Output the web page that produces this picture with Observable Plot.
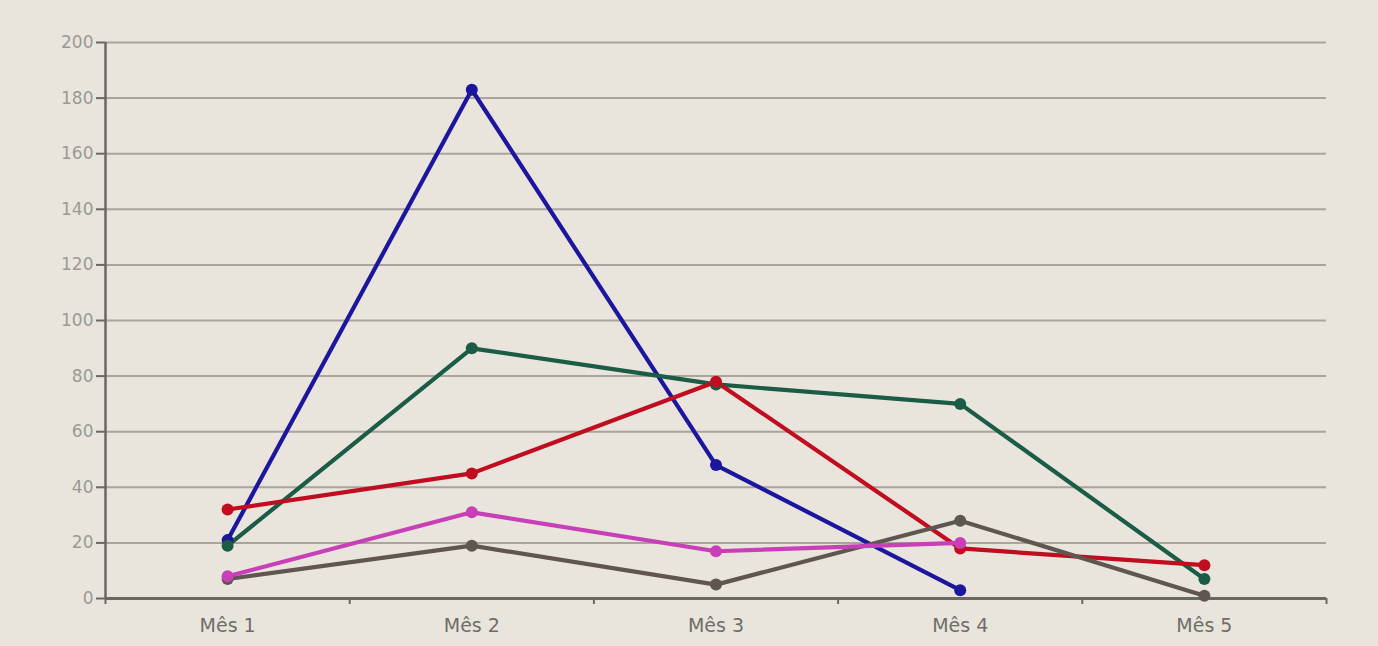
<!DOCTYPE html>
<html>
<head>
<meta charset="utf-8">
<script src="https://cdn.jsdelivr.net/npm/d3@7"></script>
<script src="https://cdn.jsdelivr.net/npm/@observablehq/plot@0.6"></script>
<style>
  html, body { margin: 0; padding: 0; background: #e9e5dc; }
  #chart svg { display: block; }
</style>
</head>
<body>
<div id="chart"></div>
<script>
const months = ["Mês 1", "Mês 2", "Mês 3", "Mês 4", "Mês 5"];
const yTicks = [0, 20, 40, 60, 80, 100, 120, 140, 160, 180, 200];
const seriesNames = ["Azul", "Verde", "Vermelho", "Cinza", "Rosa"];
const seriesColors = ["#1c169e", "#1b5c46", "#c00d1f", "#5f5650", "#c83fb8"];
const azul = [21, 183, 48, 3, null];
const verde = [19, 90, 77, 70, 7];
const vermelho = [32, 45, 78, 18, 12];
const cinza = [7, 19, 5, 28, 1];
const rosa = [8, 31, 17, 20, null];

const allSeries = [azul, verde, vermelho, cinza, rosa];
const data = [];
allSeries.forEach((vals, s) => {
  vals.forEach((v, i) => {
    if (v !== null) data.push({series: seriesNames[s], idx: i + 1, value: v});
  });
});
const boundaries = d3.range(0.5, months.length + 1, 1);

const chart = Plot.plot({
  width: 1378,
  height: 646,
  marginLeft: 105,
  marginRight: 52,
  marginTop: 42,
  marginBottom: 48,
  style: {background: "#e9e5dc", fontFamily: "DejaVu Sans, Verdana, sans-serif"},
  x: {domain: [0.5, months.length + 0.5]},
  y: {domain: [0, 200]},
  color: {domain: seriesNames, range: seriesColors},
  marks: [
    Plot.ruleY(yTicks.filter(d => d > 0), {stroke: "#a9a59c", strokeWidth: 2}),
    Plot.axisY({ticks: yTicks, tickSize: 9, tickPadding: 3, stroke: "#6b6762", strokeWidth: 2, fill: "#9a9996", fontSize: 17, label: null}),
    Plot.axisX({ticks: boundaries, tickSize: 6, tickFormat: () => "", stroke: "#6b6762", strokeWidth: 2, label: null}),
    Plot.axisX({ticks: d3.range(1, months.length + 1), tickSize: 0, tickPadding: 20, tickFormat: d => months[d - 1], fill: "#6e6d6a", fontSize: 19, letterSpacing: 1, label: null}),
    Plot.ruleY([0], {stroke: "#6b6762", strokeWidth: 3}),
    Plot.ruleX([0.5], {stroke: "#6b6762", strokeWidth: 2.5}),
    Plot.line(data, {x: "idx", y: "value", z: "series", stroke: "series", strokeWidth: 4.2}),
    Plot.dot(data, {x: "idx", y: "value", fill: "series", r: 6})
  ]
});
document.getElementById("chart").appendChild(chart);
</script>
</body>
</html>
